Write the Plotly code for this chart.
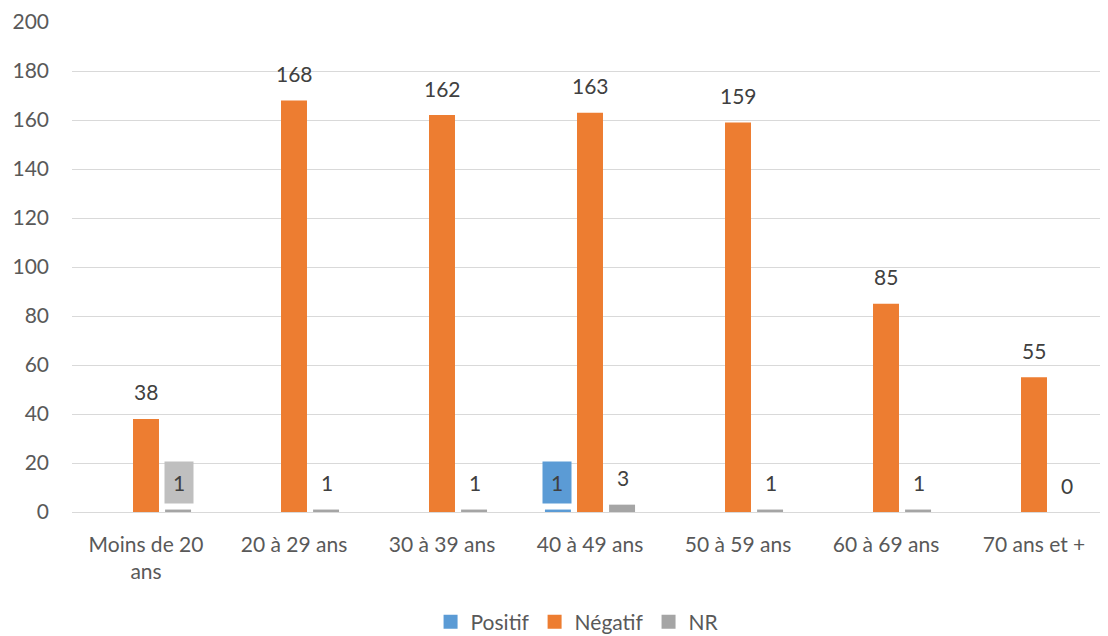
import plotly.graph_objects as go

categories = ["Moins de 20<br>ans", "20 à 29 ans", "30 à 39 ans", "40 à 49 ans",
              "50 à 59 ans", "60 à 69 ans", "70 ans et +"]
positif = [0, 0, 0, 1, 0, 0, 0]
negatif = [38, 168, 162, 163, 159, 85, 55]
nr = [1, 1, 1, 3, 1, 1, 0]

# which labels are shown per series (Positif zeros hidden in the original)
show_positif = [False, False, False, True, False, False, False]
show_negatif = [True] * 7
show_nr = [True] * 7
# label background colours (None = transparent)
bg_positif = [None, None, None, "#5B9BD5", None, None, None]
bg_nr = ["#BFBFBF", None, None, None, None, None, None]

colors = {"Positif": "#5B9BD5", "Négatif": "#ED7D31", "NR": "#A5A5A5"}
FONT = "Lato"
FS = 21

fig = go.Figure()
for name, vals in [("Positif", positif), ("Négatif", negatif), ("NR", nr)]:
    fig.add_trace(go.Bar(x=categories, y=vals, name=name, showlegend=False,
                         legendgroup=name,
                         marker=dict(color=colors[name], line=dict(width=0))))
# legend entries with square swatches like the original
for name in ["Positif", "Négatif", "NR"]:
    fig.add_trace(go.Scatter(x=[None], y=[None], mode="markers", name=name,
                             legendgroup=name,
                             marker=dict(symbol="square", size=14, color=colors[name])))

series = [
    (positif, show_positif, bg_positif, -33),
    (negatif, show_negatif, [None] * 7, 0),
    (nr, show_nr, bg_nr, 33),
]
for vals, shows, bgs, xs in series:
    for c, v, s, bg in zip(categories, vals, shows, bgs):
        if not s:
            continue
        fig.add_annotation(
            x=c, y=v, text=str(v), showarrow=False, xshift=xs, yshift=27,
            yanchor="middle", xanchor="center",
            font=dict(family=FONT, size=FS, color="#404040"),
            bgcolor=bg if bg else "rgba(0,0,0,0)", borderpad=8,
        )

# the page body adds an 8px offset, so the figure is 8px smaller
fig.update_layout(
    width=1100, height=628,
    margin=dict(l=64, r=0, t=14, b=124, autoexpand=False),
    paper_bgcolor="white", plot_bgcolor="white",
    barmode="group", bargap=0.35, bargroupgap=0.19,
    font=dict(family=FONT, size=FS, color="#595959"),
    legend=dict(orientation="h", x=0.488, xanchor="center", y=-0.183, yanchor="top",
                font=dict(family=FONT, size=FS, color="#595959"),
                traceorder="normal", itemwidth=30),
    xaxis=dict(showgrid=False, showline=False, ticks="", tickfont=dict(size=FS),
               automargin=False, ticklabelstandoff=18),
    yaxis=dict(range=[0, 200], dtick=20, showgrid=True, gridcolor="#D9D9D9",
               gridwidth=1, zeroline=True, zerolinecolor="#D9D9D9", zerolinewidth=1,
               showline=False, ticks="", tickfont=dict(size=FS), ticklabelstandoff=22,
               automargin=False),
)

fig.write_html("out.html")
